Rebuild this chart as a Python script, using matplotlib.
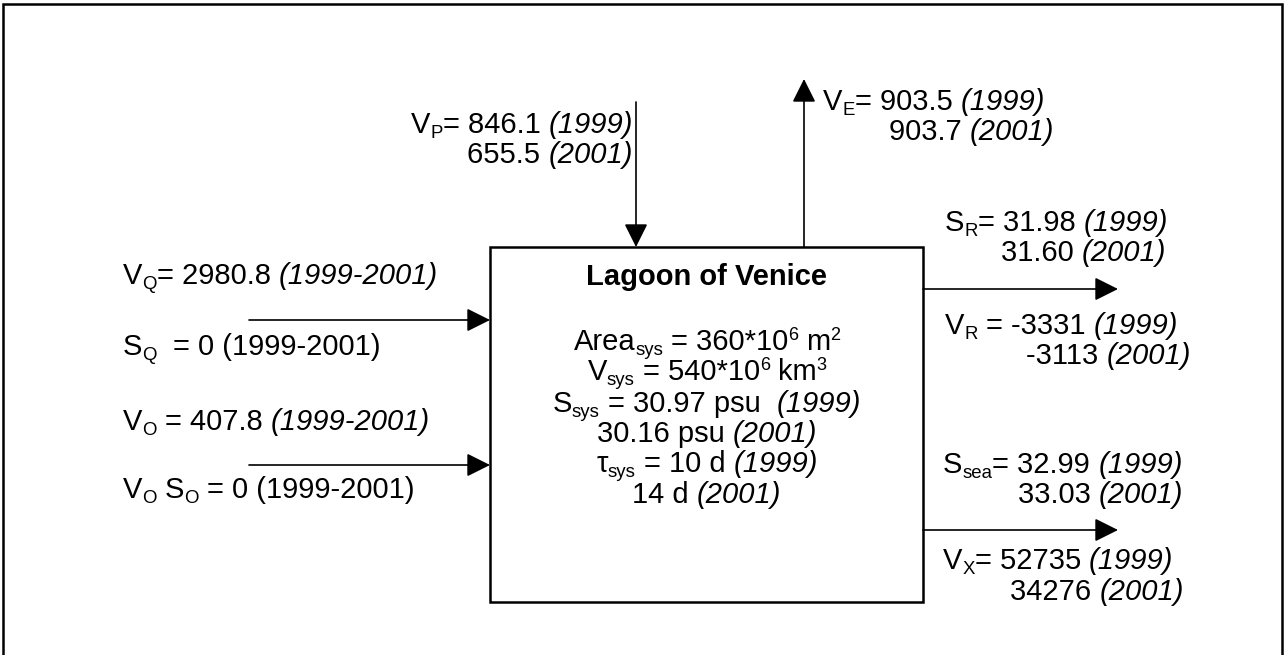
import matplotlib
matplotlib.use('Agg')
import matplotlib.pyplot as plt
from matplotlib.patches import Rectangle

plt.rcParams['font.family'] = ['Liberation Sans', 'DejaVu Sans']

FS = 21

# text of the flux diagram: each line is a list of (text, style) runs
box_lines = [
    [('Lagoon of Venice', 'b')],
    [('Area', 'n'), ('sys', 'sub'), (' = 360*10', 'n'), ('6', 'sup'), (' m', 'n'), ('2', 'sup')],
    [('V', 'n'), ('sys', 'sub'), (' = 540*10', 'n'), ('6', 'sup'), (' km', 'n'), ('3', 'sup')],
    [('S', 'n'), ('sys', 'sub'), (' = 30.97 psu  ', 'n'), ('(1999)', 'i')],
    [('30.16 psu ', 'n'), ('(2001)', 'i')],
    [('\u03c4', 'n'), ('sys', 'sub'), (' = 10 d ', 'n'), ('(1999)', 'i')],
    [('14 d ', 'n'), ('(2001)', 'i')],
]
precip_lines = [
    [('V', 'n'), ('P', 'sub'), ('= 846.1 ', 'n'), ('(1999)', 'i')],
    [('655.5 ', 'n'), ('(2001)', 'i')],
]
evap_lines = [
    [('V', 'n'), ('E', 'sub'), ('= 903.5 ', 'n'), ('(1999)', 'i')],
    [('903.7 ', 'n'), ('(2001)', 'i')],
]
inflow_lines = [
    [('V', 'n'), ('Q', 'sub'), ('= 2980.8 ', 'n'), ('(1999-2001)', 'i')],
    [('S', 'n'), ('Q', 'sub'), ('  = 0 (1999-2001)', 'n')],
    [('V', 'n'), ('O', 'sub'), (' = 407.8 ', 'n'), ('(1999-2001)', 'i')],
    [('V', 'n'), ('O', 'sub'), (' S', 'n'), ('O', 'sub'), (' = 0 (1999-2001)', 'n')],
]
outflow_lines = [
    [('S', 'n'), ('R', 'sub'), ('= 31.98 ', 'n'), ('(1999)', 'i')],
    [('31.60 ', 'n'), ('(2001)', 'i')],
    [('V', 'n'), ('R', 'sub'), (' = -3331 ', 'n'), ('(1999)', 'i')],
    [('-3113 ', 'n'), ('(2001)', 'i')],
    [('S', 'n'), ('sea', 'sub'), ('= 32.99 ', 'n'), ('(1999)', 'i')],
    [('33.03 ', 'n'), ('(2001)', 'i')],
    [('V', 'n'), ('X', 'sub'), ('= 52735 ', 'n'), ('(1999)', 'i')],
    [('34276 ', 'n'), ('(2001)', 'i')],
]

fig = plt.figure(figsize=(12.87, 6.55), dpi=100)
ax = fig.add_axes([0, 0, 1, 1])
ax.set_xlim(0, 1287)
ax.set_ylim(655, 0)
ax.axis('off')
renderer = fig.canvas.get_renderer()

styles = {
    'n': (dict(fontsize=FS), 0),
    'i': (dict(fontsize=FS, fontstyle='italic'), 0),
    'b': (dict(fontsize=FS, fontweight='bold'), 0),
    'sub': (dict(fontsize=FS * 0.64), 5),
    'sup': (dict(fontsize=FS * 0.62), -10),
}


def text_width(s, kw):
    # advance width, trailing spaces included
    t = ax.text(0, 0, '|' + s + '|', **kw)
    w1 = t.get_window_extent(renderer).width
    t.remove()
    t = ax.text(0, 0, '||', **kw)
    w0 = t.get_window_extent(renderer).width
    t.remove()
    return w1 - w0


def put_line(x, y, runs, ha='left'):
    pieces = []
    cx = 0
    for s, st in runs:
        kw, dy = styles[st]
        core = s.lstrip(' ')
        lead = len(s) - len(core)
        if lead:
            cx += text_width(' ' * lead, kw)
        pieces.append((cx, dy, core, kw))
        cx += text_width(core, kw)
    shift = 0
    if ha == 'center':
        shift = -cx / 2
    elif ha == 'right':
        shift = -cx
    for px, dy, core, kw in pieces:
        ax.text(x + shift + px, y + dy, core, va='baseline', ha='left', **kw)


def arrow(x0, y0, x1, y1):
    ax.annotate('', xy=(x1, y1), xytext=(x0, y0),
                arrowprops=dict(arrowstyle='-|>,head_length=0.72,head_width=0.36',
                                mutation_scale=20, lw=1.2, color='k',
                                shrinkA=0, shrinkB=0))


# outer frame (bottom edge cut off)
ax.plot([3, 3, 1282, 1282], [655, 4, 4, 655], color='k', lw=1.8, solid_joinstyle='miter')

# lagoon box
ax.add_patch(Rectangle((490, 247), 433, 355, fill=False, lw=1.8, ec='k'))
for line, yb in zip(box_lines, [285, 350, 380, 412, 442, 472, 503]):
    put_line(707, yb, line, ha='center')

# precipitation / evaporation
arrow(636, 102, 636, 247)
arrow(804, 247, 804, 79)
for line, yb in zip(precip_lines, [133, 163]):
    put_line(633, yb, line, ha='right')
put_line(823, 110, evap_lines[0])
put_line(889, 140, evap_lines[1])

# inflows from the left
arrow(249, 320, 490, 320)
arrow(249, 465, 490, 465)
for line, yb in zip(inflow_lines, [284, 355, 430, 498]):
    put_line(123, yb, line)

# exchanges on the right
arrow(923, 289, 1118, 289)
arrow(923, 530, 1118, 530)
right_pos = [(945, 231), (1001, 261), (945, 334), (1026, 364),
             (943, 473), (1018, 503), (943, 569), (1010, 600)]
for line, (xl, yb) in zip(outflow_lines, right_pos):
    put_line(xl, yb, line)

fig.savefig('out.png', dpi=100)
